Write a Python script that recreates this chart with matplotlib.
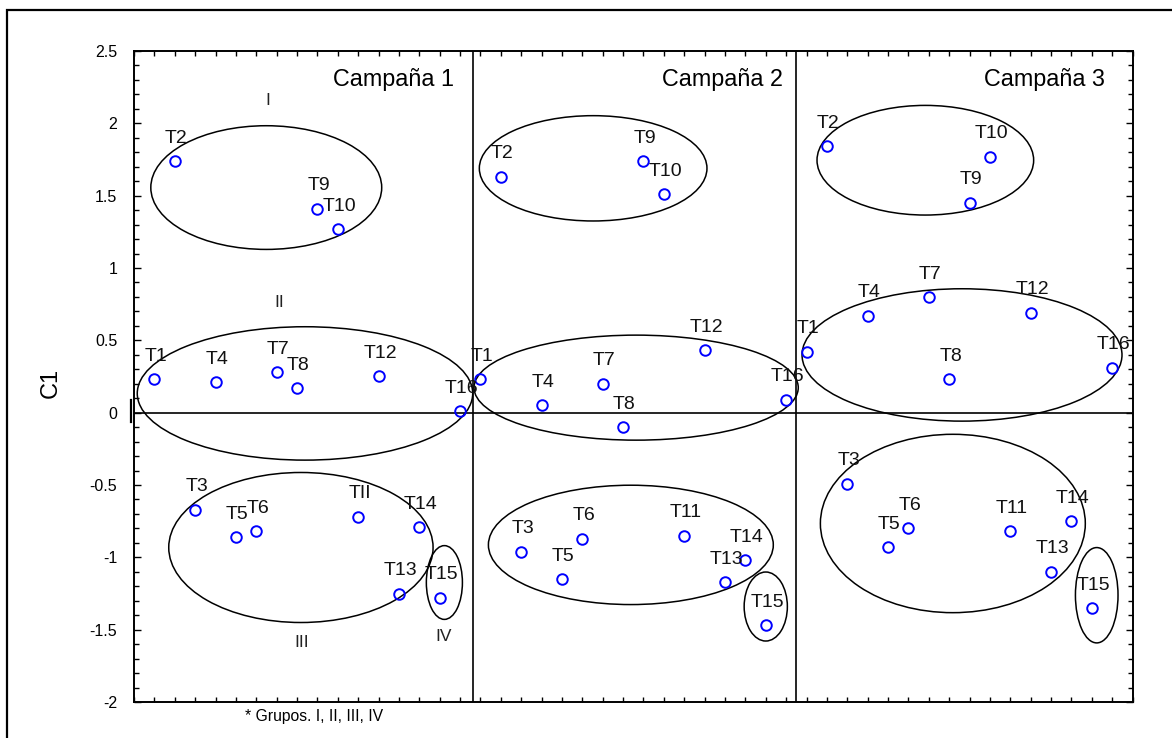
import numpy as np
import matplotlib
matplotlib.use("Agg")
import matplotlib.pyplot as plt
from matplotlib.patches import Ellipse, Rectangle
from matplotlib.ticker import MultipleLocator, FuncFormatter

plt.rcParams['font.family'] = ['Liberation Sans', 'DejaVu Sans']

# Treatments T1..T16, scored on the first component (C1) in each campaign
treatments = [f"T{i}" for i in range(1, 17)]
campaigns = ["Campaña 1", "Campaña 2", "Campaña 3"]

c1_campaign1 = [0.23, 1.74, -0.67, 0.21, -0.86, -0.82, 0.28, 0.17,
                1.41, 1.27, -0.72, 0.25, -1.25, -0.79, -1.28, 0.01]
c1_campaign2 = [0.23, 1.63, -0.96, 0.05, -1.15, -0.87, 0.20, -0.10,
                1.74, 1.51, -0.85, 0.43, -1.17, -1.02, -1.47, 0.09]
c1_campaign3 = [0.42, 1.84, -0.49, 0.67, -0.93, -0.80, 0.80, 0.23,
                1.45, 1.77, -0.82, 0.69, -1.10, -0.75, -1.35, 0.31]
c1_values = [c1_campaign1, c1_campaign2, c1_campaign3]

# label printed for T11 in the first campaign
label_override = {(0, "T11"): "TII"}

group_names = ["I", "II", "III", "IV"]

# group outlines per campaign: (centre x, centre y, width, height)
group_outlines = [
    [(6.49, 1.556, 11.33, 0.855), (8.39, 0.133, 16.46, 0.922),
     (8.19, -0.932, 12.97, 1.037), (15.23, -1.174, 1.77, 0.51)],
    [(22.53, 1.689, 11.17, 0.728), (24.64, 0.173, 15.91, 0.726),
     (24.38, -0.914, 13.98, 0.825), (31.00, -1.340, 2.12, 0.477)],
    [(38.83, 1.745, 10.63, 0.758), (40.63, 0.399, 15.70, 0.915),
     (40.18, -0.766, 13.00, 1.233), (47.24, -1.262, 2.09, 0.659)],
]
group_label_pos = [(6.59, 2.16), (7.13, 0.76), (8.21, -1.59), (15.21, -1.55)]

W, H = 1172, 738
fig = plt.figure(figsize=(W / 100, H / 100), dpi=100)
ax = fig.add_axes([134 / W, 1 - 702 / H, (1133 - 134) / W, (702 - 51) / H])

n_per = len(treatments)
block = 16
for k, vals in enumerate(c1_values):
    xs = np.arange(1, n_per + 1) + k * block
    ax.plot(xs, vals, 'o', ms=7.6, mfc='none', mec='#0000ff', mew=1.4,
            zorder=4, clip_on=False)
    for x, v, name in zip(xs, vals, treatments):
        ax.annotate(label_override.get((k, name), name), (x, v),
                    xytext=(1, 16.5), textcoords='offset points',
                    ha='center', va='center', fontsize=14, color='#111111',
                    zorder=5)
    for (cx, cy, w, h) in group_outlines[k]:
        ax.add_patch(Ellipse((cx, cy), w, h, fill=False, ec='black',
                             lw=1.1, zorder=3))

for name, (gx, gy) in zip(group_names, group_label_pos):
    ax.text(gx, gy, name, ha='center', va='center', fontsize=12.5,
            color='#222222')

campaign_label_x = [15.70, 31.86, 47.66]
for name, cx in zip(campaigns, campaign_label_x):
    ax.text(cx, 2.306, name, ha='right', va='center', fontsize=16.8)

# panel separators and the zero line
for xs in (16.65, 32.5):
    ax.axvline(xs, color='black', lw=1.2, zorder=2)
ax.axhline(0, color='black', lw=1.2, zorder=2)

ax.set_xlim(0, 49.02)
ax.set_ylim(-2, 2.5)
ax.yaxis.set_major_locator(MultipleLocator(0.5))
ax.yaxis.set_minor_locator(MultipleLocator(0.1))
ax.xaxis.set_major_locator(MultipleLocator(1))
ax.yaxis.set_major_formatter(FuncFormatter(lambda v, p: f"{v:g}".replace('\u2212', '-')))
ax.tick_params(axis='y', which='major', direction='in', length=5, width=1,
               right=True, labelsize=11.5, pad=12)
ax.tick_params(axis='y', which='minor', direction='in', length=3.5, width=1,
               right=True)
ax.tick_params(axis='x', which='major', direction='in', length=3.5, width=1,
               top=True, labelbottom=False)
for s in ax.spines.values():
    s.set_linewidth(1.4)

ax.set_ylabel("C1", fontsize=17)
ax.yaxis.set_label_coords(-0.072, 0.49)

# small mark at the zero level on the left edge
ax.plot([-0.15, -0.15], [0.085, -0.065], color='black', lw=1.6,
        clip_on=False, zorder=6)

fig.text(245 / W, 1 - 716.7 / H, "* Grupos. I, II, III, IV", ha='left',
         va='center', fontsize=11.3)

# frame around the whole figure
fig.patches.append(Rectangle((6.7 / W, -0.05), 1.2, 1 - 10 / H + 0.05,
                             transform=fig.transFigure, fill=False,
                             ec='black', lw=1.6))

fig.savefig("out.png", dpi=100)
